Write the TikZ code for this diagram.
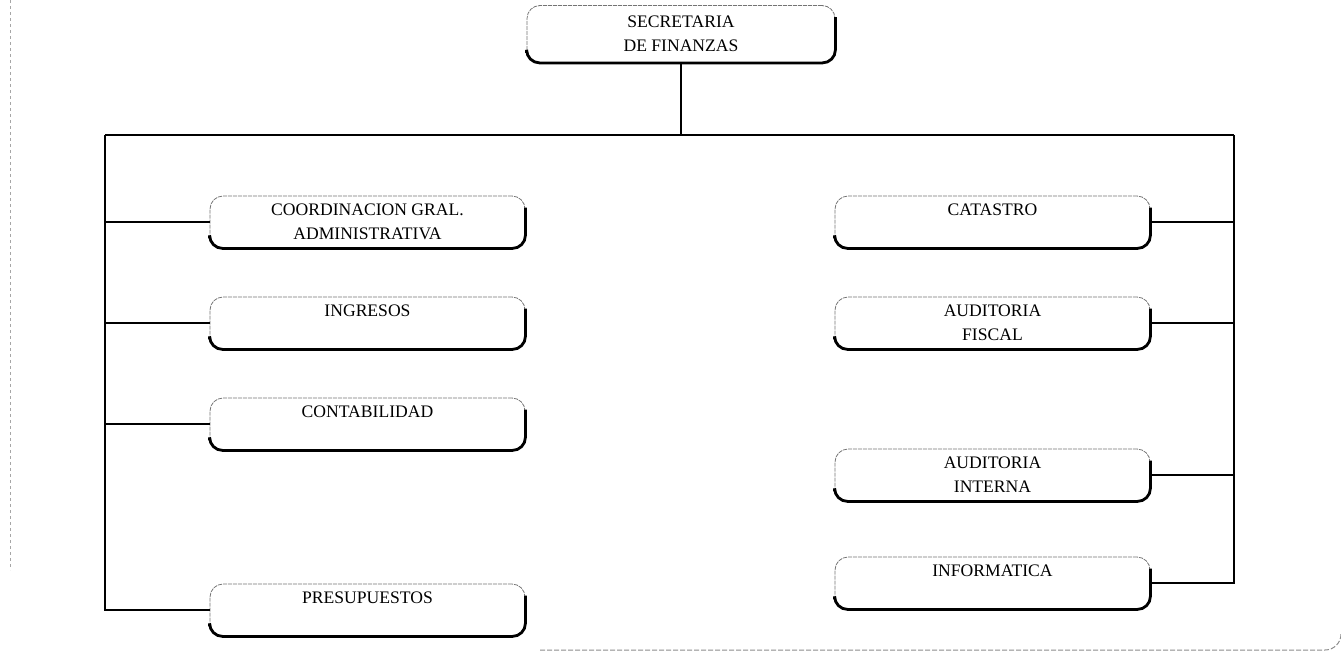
\documentclass[tikz,border=0pt]{standalone}
\usepackage{fontspec}
\setmainfont{Liberation Serif}
\tikzset{
  unit/.style={rectangle, rounded corners=13pt, draw=black!55, line width=0.8pt,
    dash pattern=on 4pt off 1pt, minimum width=315pt, minimum height=52pt,
    inner sep=0pt, align=center, font=\fontsize{17.6}{24}\selectfont},
  heavy/.style={line width=2.8pt, draw=black, rounded corners=13pt},
  wire/.style={line width=2.7pt, draw=black},
  faint/.style={draw=black!35, line width=0.8pt, dash pattern=on 3pt off 3pt}
}
\newcommand{\heavyedge}[1]{\draw[heavy] ([yshift=-12pt]#1.north east) -- (#1.south east) -- (#1.south west) -- ([yshift=10pt]#1.south west);}
\begin{document}
\begin{tikzpicture}[x=1pt,y=-1pt]
\useasboundingbox (0,0) rectangle (1341,659);
% faint frame remnants
\draw[faint] (10,0) -- (10,570);
\draw[draw=black!45, line width=1pt, dash pattern=on 5pt off 2pt] (540,650) -- (1325,650) arc[start angle=270,end angle=360,radius=16pt];

\node[unit, minimum width=308pt, minimum height=57pt] (sec) at (681,34) {SECRETARIA\\DE FINANZAS};

\node[unit] (coord) at (367.5,222) {COORDINACION GRAL.\\ADMINISTRATIVA};
\node[unit] (ingr)  at (367.5,323) {INGRESOS\\\mbox{}};
\node[unit] (cont)  at (367.5,424) {CONTABILIDAD\\\mbox{}};
\node[unit] (pres)  at (367.5,610) {PRESUPUESTOS\\\mbox{}};

\node[unit] (cat)   at (992.5,222) {CATASTRO\\\mbox{}};
\node[unit] (audf)  at (992.5,323) {AUDITORIA\\FISCAL};
\node[unit] (audi)  at (992.5,475) {AUDITORIA\\INTERNA};
\node[unit] (info)  at (992.5,583) {INFORMATICA\\\mbox{}};

\foreach \nn in {sec,coord,ingr,cont,pres,cat,audf,audi,info}{\heavyedge{\nn}}

\coordinate (tl) at (105,135);
\coordinate (tr) at (1234,135);

\draw[wire] (sec.south) -- (sec.south |- tl);
\draw[wire] (tl) -- (tr);
\draw[wire] (tl) |- (pres.west);
\draw[wire] (coord.west) -- (coord.west -| tl);
\draw[wire] (ingr.west) -- (ingr.west -| tl);
\draw[wire] (cont.west) -- (cont.west -| tl);
\draw[wire] (tr) |- (info.east);
\draw[wire] (cat.east) -- (cat.east -| tr);
\draw[wire] (audf.east) -- (audf.east -| tr);
\draw[wire] (audi.east) -- (audi.east -| tr);
\end{tikzpicture}
\end{document}
